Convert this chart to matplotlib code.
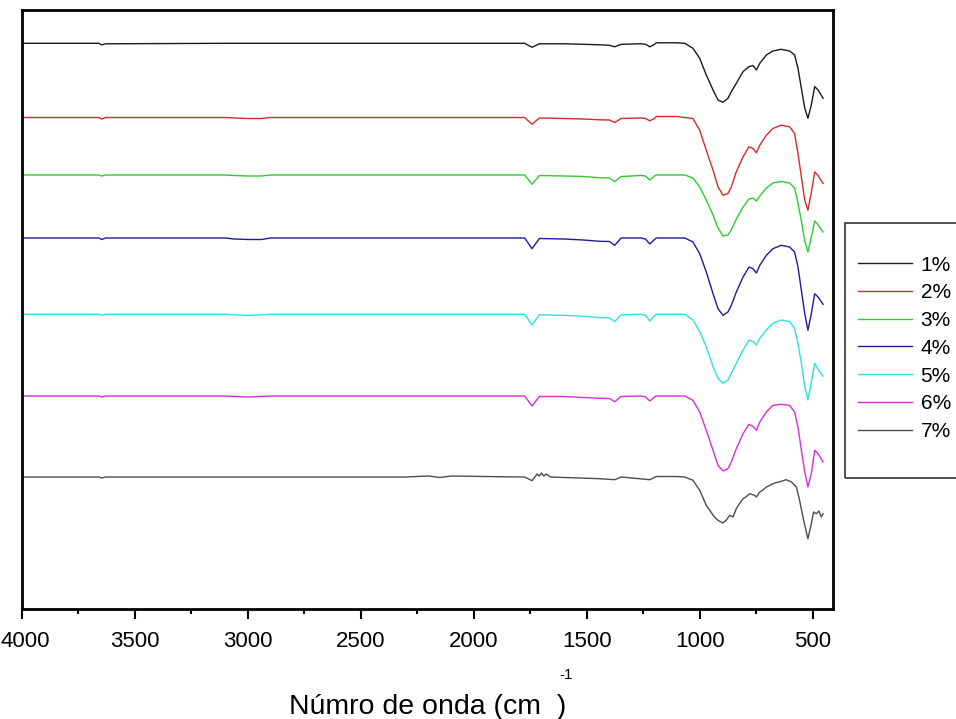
import numpy as np
import matplotlib
matplotlib.use("Agg")
from matplotlib import pyplot as plt
from matplotlib.patches import Rectangle
from matplotlib.transforms import ScaledTranslation

plt.rcParams["font.family"] = ["Liberation Sans", "DejaVu Sans"]

# wavenumber grid (cm-1) shared by samples 1%..6%
wn = [4000, 3700, 3660, 3647, 3630, 3100, 3060, 3000, 2940, 2900,
      1800, 1775, 1742, 1710, 1600, 1516, 1443, 1400, 1376, 1348,
      1260, 1240, 1221, 1200, 1192, 1100, 1066, 1030, 1000, 971,
      941, 919, 897, 875, 860, 838, 808, 782, 764, 749,
      734, 705, 676, 639, 602, 580, 565, 550, 535, 521,
      506, 491, 476, 454]

# baseline level of each curve (stacked offsets)
offsets = [565.7, 491.5, 434.0, 371.0, 294.7, 213.0, 132.0]

# band depth below the baseline
d1 = [0, 0, 0, 1.5, 0.5, 0, 0, 0, 0, 0,
      0, 0, 4, 0.5, 0.5, 1, 1.5, 2, 3.5, 1,
      0.5, 1, 3.5, 1, -0.5, -0.5, 0, 5, 15, 31.7,
      46.7, 56.7, 59, 55, 48.3, 40, 28.3, 23.3, 22.3, 26.7,
      20, 11.7, 7.7, 6, 7.7, 11.7, 25, 45, 65, 75,
      61.7, 43.3, 46.7, 55]
d2 = [0, 0, 0, 1.5, 0, 0, 0.5, 1, 1, 0,
      0, 0, 6.7, 0.5, 1, 1.5, 2.3, 2.5, 5, 1,
      0.5, 1, 3.3, 1, -1, -1, 0, 1, 12.7, 32.7,
      52.7, 69.3, 77.7, 76, 69.3, 54.3, 39.3, 29.3, 31, 35.3,
      27.7, 17.7, 11, 7.7, 9.3, 16, 36, 59.3, 82.7, 92.7,
      75, 54.4, 58, 66]
d3 = [0, 0, 0, 1, 0, 0, 0.5, 1, 1, 0,
      0, 0, 9.3, 0.5, 1, 1.5, 2.7, 3, 6.7, 1.5,
      0.5, 1, 5, 1, 0, 0, 0, 3, 12, 25,
      40, 53, 61, 60, 55, 44, 32, 24, 23, 26,
      21, 13, 8, 6.5, 8, 13, 28, 46, 66, 77,
      62, 46, 50, 57]
d4 = [0, 0, 0, 1.5, 0, 0, 1, 1.5, 1.5, 0,
      0, 0, 10.7, 0.5, 1, 2, 3.3, 3.5, 7.3, 0,
      0, 1, 6, 1.5, 0, 0, 0, 4, 15.7, 34,
      55.7, 70.7, 77.3, 74, 67.3, 54, 39, 29, 30.7, 35,
      27.3, 17.3, 10.7, 7.3, 9, 14, 29, 52.3, 75.7, 92.3,
      75.7, 55.7, 59, 66.3]
d5 = [0, 0, 0, 1, 0, 0, 0.5, 1, 0.5, 0,
      0, 0, 10.7, 0.5, 1, 2, 3.3, 3.5, 7.3, 0.5,
      0, 1, 6.7, 1.5, 0, 0, 0, 5.7, 17.3, 32.3,
      52.3, 64, 69, 65.7, 59, 49, 35.7, 25.7, 27.3, 30.7,
      24, 15.7, 9, 5.7, 7.3, 14, 29, 49, 72.3, 85.7,
      68, 49, 55, 62]
d6 = [0, 0, 0, 1, 0, 0, 0.5, 1, 0.5, 0,
      0, 0, 10, 0.5, 0.5, 1.5, 2.3, 2.5, 5.7, 0.5,
      0, 1, 5, 1, 0, 0, 0, 4.3, 16, 34.3,
      54.3, 69.3, 75, 72.7, 66, 52.7, 37.7, 28.3, 30.3, 34.3,
      26, 16, 9.3, 8.3, 9.3, 16, 31, 54.3, 76, 91,
      77.7, 54.3, 57.7, 66]

# sample 7% is noisier, own grid
wn7 = [4000, 3660, 3647, 3630, 2300, 2200, 2150, 2100, 1800, 1775,
       1742, 1730, 1720, 1710, 1700, 1690, 1680, 1660, 1600, 1443,
       1376, 1348, 1221, 1192, 1100, 1066, 1030, 1000, 971, 950,
       941, 930, 919, 910, 897, 883, 867, 853, 838, 825,
       808, 790, 779, 757, 749, 734, 720, 705, 690, 676,
       660, 639, 617, 594, 572, 558, 543, 528, 521, 506,
       496, 484, 472, 462, 454]
d7 = [0, 0, 1, 0, 0, -1, 0.5, -1, 0, 0,
      3.7, 0, -3, -1, -4, -1, -3, 0, 0.5, 1.7,
      2.7, 0, 2.7, -0.5, -0.5, 0, 3.3, 13.3, 28.3, 35,
      38.3, 41, 43.3, 44.5, 46, 43.3, 38.3, 40, 31.7, 27,
      21.7, 19, 16.7, 18.3, 20, 15, 13, 10, 8.5, 6.7,
      5.5, 4.3, 2.7, 5, 10, 23.3, 40, 55, 61.7, 46.7,
      35, 36.7, 34, 40, 36.7]

labels = ["1%", "2%", "3%", "4%", "5%", "6%", "7%"]
colors = ["#1a1a1a", "#d42a2a", "#2ecc2e", "#1c1c9c", "#2fe0e0", "#d62fd6", "#4d4d4d"]

fig = plt.figure(figsize=(9.56, 7.19), dpi=100)
ax = fig.add_axes([22 / 956, 110 / 719, 811 / 956, 599 / 719])

depths = [d1, d2, d3, d4, d5, d6]
for i in range(6):
    ax.plot(wn, offsets[i] - np.array(depths[i]), color=colors[i], lw=1.0, label=labels[i])
ax.plot(wn7, offsets[6] - np.array(d7), color=colors[6], lw=1.0, label=labels[6])

ax.set_xlim(4000, 410)
ax.set_ylim(0, 599)
ax.set_xticks([4000, 3500, 3000, 2500, 2000, 1500, 1000, 500])
ax.set_xticks(np.arange(3750, 400, -500), minor=True)
ax.set_yticks([])
ax.tick_params(axis="x", which="major", direction="out", length=7, width=1.5, labelsize=16, pad=9)
ax.tick_params(axis="x", which="minor", direction="out", length=3.5, width=1.5)
for s in ax.spines.values():
    s.set_linewidth(2)

# keep the first label inside the picture
first = ax.get_xticklabels()[0]
first.set_transform(first.get_transform() + ScaledTranslation(3 / 100, 0, fig.dpi_scale_trans))

ax.set_xlabel("Númro de onda (cm  )", fontsize=20.5, labelpad=30)
fig.text(566 / 956, 1 - 675 / 719, "-1", fontsize=11, ha="center", va="center")

# legend box (runs past the right edge of the picture)
fig.patches.append(Rectangle((845 / 956, 1 - 478 / 719), 130 / 956, 255 / 719,
                             transform=fig.transFigure, fill=False,
                             edgecolor="#333333", lw=1.2))
leg = ax.legend(loc="upper left", bbox_to_anchor=(845 / 956, 1 - 243 / 719),
                bbox_transform=fig.transFigure, fontsize=15, frameon=False,
                handlelength=2.6, handletextpad=0.43,
                labelspacing=0.42, borderpad=0.6, borderaxespad=0)

fig.savefig("out.png", dpi=100)
